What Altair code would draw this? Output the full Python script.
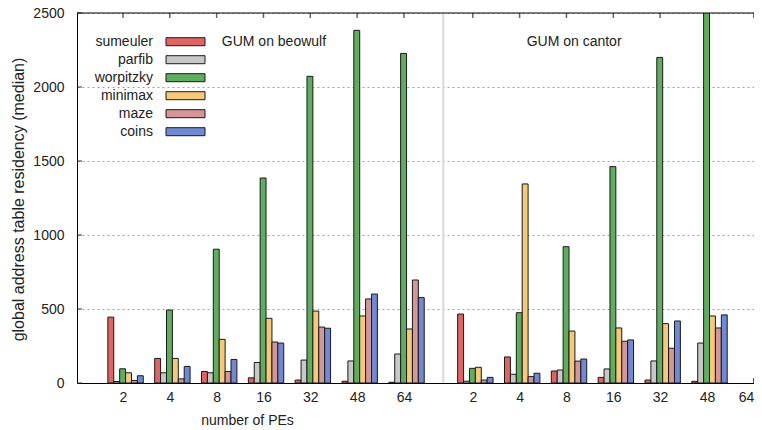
import altair as alt
import pandas as pd

# ---------------- data ----------------
pes = ["2", "4", "8", "16", "32", "48", "64"]
series = ["sumeuler", "parfib", "worpitzky", "minimax", "maze", "coins"]
colors = ["#e06464", "#c8c8c8", "#5fae5f", "#f4c97a", "#d49696", "#7189d3"]
machines = ["GUM on beowulf", "GUM on cantor"]

# GUM on beowulf (median residency per number of PEs)
beo_sumeuler = [445, 166, 78, 35, 20, 12, 5]
beo_parfib = [10, 69, 69, 139, 155, 149, 196]
beo_worpitzky = [96, 493, 904, 1385, 2072, 2383, 2227]
beo_minimax = [69, 166, 295, 437, 486, 453, 365]
beo_maze = [17, 28, 78, 277, 378, 568, 696]
beo_coins = [49, 112, 159, 270, 370, 601, 577]

# GUM on cantor (no data for 64 PEs)
can_sumeuler = [466, 176, 81, 38, 20, 11, None]
can_parfib = [12, 59, 88, 95, 149, 270, None]
can_worpitzky = [99, 475, 921, 1462, 2200, 2650, None]
can_minimax = [106, 1345, 351, 372, 401, 453, None]
can_maze = [20, 43, 148, 282, 235, 372, None]
can_coins = [38, 66, 162, 291, 419, 460, None]

y_ticks = [0, 500, 1000, 1500, 2000, 2500]

# ---------------- layout helpers ----------------
machine_start = [0.0, 7.47]      # slot index where each histogram starts
bar_w = 0.126                    # bar width in slot units
bar_shift = 0.055
separator_pos = [6.84]
title_pos = [2.11, 8.62]
W, H = 677, 370

values = {
    machines[0]: [beo_sumeuler, beo_parfib, beo_worpitzky, beo_minimax, beo_maze, beo_coins],
    machines[1]: [can_sumeuler, can_parfib, can_worpitzky, can_minimax, can_maze, can_coins],
}

rows, tick_pos = [], []
for m, start in zip(machines, machine_start):
    for i, pe in enumerate(pes):
        pos = start + i
        tick_pos.append(pos)
        for k, s in enumerate(series):
            v = values[m][k][i]
            if v is None:
                continue
            x0 = pos + bar_shift + (k - 3) * bar_w
            rows.append({"machine": m, "pe": pe, "series": s, "value": v,
                         "x": x0, "x2": x0 + bar_w})
df = pd.DataFrame(rows)

xscale = alt.Scale(domain=[-0.982, 13.475], nice=False, zero=False)
yscale = alt.Scale(domain=[0, 2500], nice=False)
cscale = alt.Scale(domain=series, range=colors)

label_list = "[" + ",".join("'%s'" % p for p in pes) + "]"
label_expr = "%s[round(datum.value < 6.9 ? datum.value : datum.value - %s)]" % (label_list, machine_start[1])

font = "Liberation Sans"

xaxis = alt.Axis(values=tick_pos, labelExpr=label_expr, ticks=False, grid=False,
                 domainColor="black", domainWidth=1, labelFontSize=14,
                 labelPadding=7, labelColor="#222",
                 title="number of PEs", titleX=170, titleY=37,
                 titleBaseline="middle", titleFontSize=14,
                 titleFontWeight="normal", titleColor="#222")
yaxis = alt.Axis(values=y_ticks, format="d", ticks=False, grid=True, gridDash=[2, 3],
                 gridColor="#a0a0a0", domainColor="black", domainWidth=1,
                 labelFontSize=14, labelPadding=13, labelColor="#222",
                 title="global address table residency (median)",
                 titleX=-59, titleY=186, titleBaseline="middle", titleFontSize=16,
                 titleFontWeight="normal", titleColor="#222")

sep = alt.Chart(pd.DataFrame({"sep": separator_pos})).mark_rule(
    color="#d9d9d9", strokeWidth=2
).encode(x=alt.X("sep:Q", scale=xscale, axis=xaxis))

bars = alt.Chart(df).mark_bar(stroke="#1a1a1a", strokeWidth=1, clip=True).encode(
    x=alt.X("x:Q", scale=xscale, axis=xaxis),
    x2="x2:Q",
    y=alt.Y("value:Q", scale=yscale, axis=yaxis),
    y2=alt.datum(0),
    color=alt.Color("series:N", scale=cscale, legend=None),
)

tickdf = pd.DataFrame({"pos": tick_pos})
top_ticks = alt.Chart(tickdf).mark_rule(color="#666", strokeWidth=1.5).encode(
    x=alt.X("pos:Q", scale=xscale, axis=xaxis), y=alt.value(0), y2=alt.value(5))
bottom_ticks = alt.Chart(tickdf).mark_rule(color="#333", strokeWidth=1.2).encode(
    x=alt.X("pos:Q", scale=xscale, axis=xaxis), y=alt.value(H - 5), y2=alt.value(H))

left_ticks = alt.Chart(pd.DataFrame({"t": y_ticks})).mark_rule(color="#333").encode(
    y=alt.Y("t:Q", scale=yscale, axis=yaxis), x=alt.value(0), x2=alt.value(5))

top_border = alt.Chart(pd.DataFrame({"a": [0]})).mark_rule(color="black").encode(
    y=alt.value(0), x=alt.value(0), x2=alt.value(W))

titles = alt.Chart(pd.DataFrame({"label": machines, "px": title_pos})).mark_text(
    align="left", baseline="middle", fontSize=14, color="#222", font=font
).encode(x=alt.X("px:Q", scale=xscale, axis=xaxis), y=alt.value(28.7), text="label:N")

main = alt.layer(sep, top_ticks, bottom_ticks, bars, left_ticks, top_border, titles)

legscale = alt.Scale(domain=series, range=[19.7, 127.7], paddingInner=0.555, paddingOuter=0.2775)
leg_rect = alt.Chart(pd.DataFrame({"series": series})).mark_bar(
    stroke="#1a1a1a", strokeWidth=1
).encode(
    y=alt.Y("series:N", scale=legscale, axis=None, sort=series),
    x=alt.value(89), x2=alt.value(128),
    color=alt.Color("series:N", scale=cscale, legend=None),
)
leg_text = alt.Chart(pd.DataFrame({"series": series})).mark_text(
    align="right", baseline="middle", fontSize=14, color="#222", font=font
).encode(
    y=alt.Y("series:N", scale=legscale, axis=None, sort=series),
    x=alt.value(76), text="series:N",
)
legend = alt.layer(leg_rect, leg_text)

chart = alt.layer(main, legend).resolve_scale(y="independent", x="independent").properties(
    width=W, height=H,
    autosize=alt.AutoSizeParams(type="none"),
    padding={"left": 69, "top": 5, "right": 0, "bottom": 44},
).configure_view(stroke=None).configure_axis(
    labelFont=font, titleFont=font
).configure_text(font=font)

chart.save("out.html", embed_options={"renderer": "svg", "actions": False})
